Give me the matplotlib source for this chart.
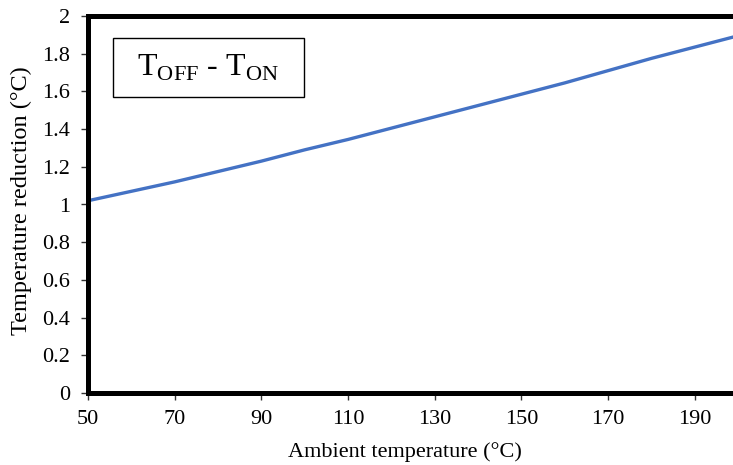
import matplotlib
matplotlib.use('Agg')
import matplotlib.pyplot as plt

plt.rcParams['font.family'] = ['Liberation Serif', 'DejaVu Serif']
plt.rcParams['mathtext.fontset'] = 'custom'
plt.rcParams['mathtext.rm'] = 'Liberation Serif'

# ambient temperature (°C) and temperature reduction T_OFF - T_ON (°C)
ambient = [50, 60, 70, 80, 90, 100, 110, 120, 130, 140, 150, 160, 170, 180, 190, 200]
reduction = [1.02, 1.07, 1.12, 1.175, 1.23, 1.29, 1.345, 1.405, 1.465, 1.525,
             1.585, 1.645, 1.71, 1.775, 1.835, 1.895]

x_ticks = [50, 70, 90, 110, 130, 150, 170, 190]
y_ticks = [0, 0.2, 0.4, 0.6, 0.8, 1, 1.2, 1.4, 1.6, 1.8, 2]
y_ticklabels = ['0', '0.2', '0.4', '0.6', '0.8', '1', '1.2', '1.4', '1.6', '1.8', '2']

W, H = 733, 465
fig = plt.figure(figsize=(W / 100, H / 100), dpi=100)
ax = fig.add_axes([88 / W, 72 / H, 650 / W, 377 / H])

ax.plot(ambient, reduction, color='#4472C4', lw=2.4, solid_capstyle='butt')

ax.set_xlim(50, 200)
ax.set_ylim(0, 2)
ax.set_xticks(x_ticks)
ax.set_yticks(y_ticks)
ax.set_yticklabels(y_ticklabels)
ax.tick_params(direction='out', length=5, width=1, color='#333333', labelsize=16)
ax.tick_params(axis='x', pad=7)
ax.tick_params(axis='y', pad=8)

for s in ax.spines.values():
    s.set_linewidth(3.6)
    s.set_color('black')

fig.text(405 / W, 1 - 452 / H, 'Ambient temperature (°C)', ha='center', va='center', fontsize=16)
fig.text(21 / W, 1 - 201 / H, 'Temperature reduction (°C)', ha='center', va='center',
         rotation=90, fontsize=17.5)

# legend-like label box
ax.text(208 / W, 1 - 68 / H, r'T$_{\mathrm{OFF}}$ - T$_{\mathrm{ON}}$', transform=fig.transFigure,
        ha='center', va='center', fontsize=23)
box = plt.Rectangle((113 / W, 1 - 97 / H), 191 / W, 59 / H, transform=fig.transFigure,
                    fill=False, ec='black', lw=1.0)
fig.patches.append(box)

fig.savefig('out.png', dpi=100)
